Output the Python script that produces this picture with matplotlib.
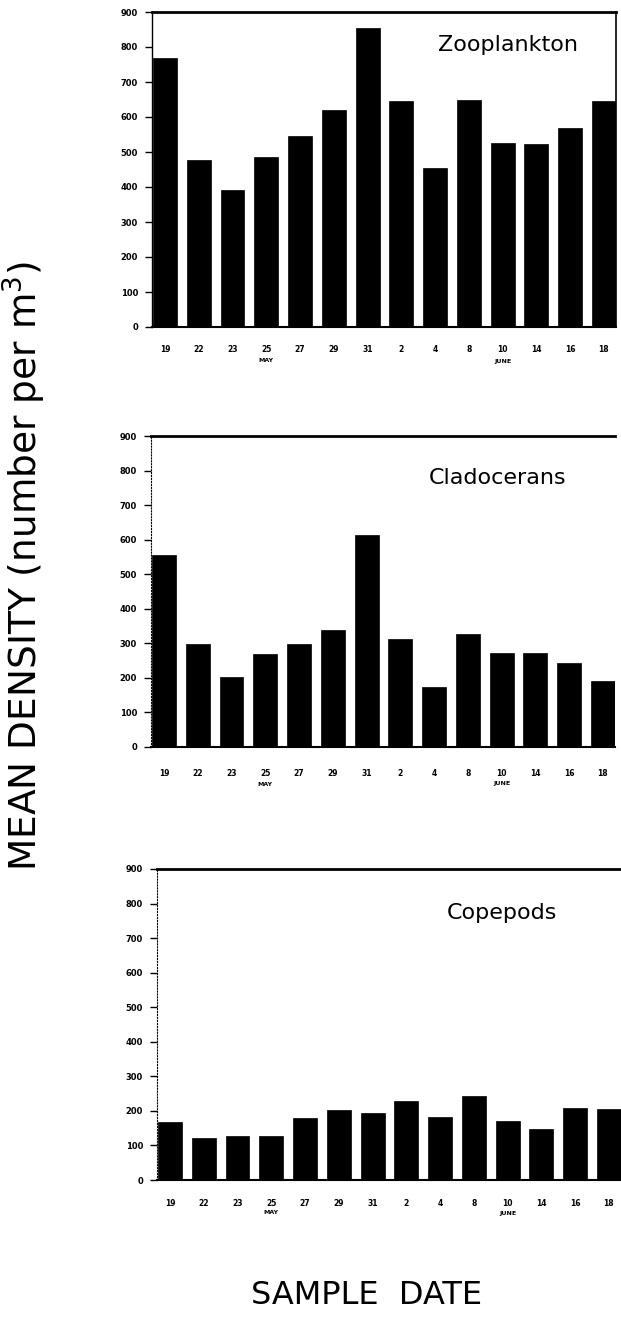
import matplotlib
matplotlib.use("Agg")
import matplotlib.pyplot as plt
import numpy as np

dates = ['19', '22', '23', '25', '27', '29', '31', '2', '4', '8', '10', '14', '16', '18']
months = ['MAY', 'JUNE']
month_pos = [3, 10]
yticks = [0, 100, 200, 300, 400, 500, 600, 700, 800, 900]

zooplankton = [770, 476, 392, 487, 547, 620, 855, 645, 454, 650, 526, 522, 568, 647]
cladocerans = [557, 298, 202, 269, 297, 340, 614, 312, 173, 327, 271, 272, 243, 192]
copepods = [167, 122, 128, 128, 179, 203, 194, 230, 182, 244, 170, 149, 208, 206]

W, H = 621, 1317
fig = plt.figure(figsize=(W / 100, H / 100), dpi=100)
fig.patch.set_facecolor('white')


def px_axes(left, right, top, bottom):
    return fig.add_axes([left / W, 1 - bottom / H, (right - left) / W, (bottom - top) / H])


panels = [
    dict(vals=zooplankton, name='Zooplankton', box=(152, 616, 12, 327), box_full=True,
         title_xy=(508, 45), lab_off=22, mon_off=34),
    dict(vals=cladocerans, name='Cladocerans', box=(151, 615, 436, 747), box_full=False,
         title_xy=(498, 478), lab_off=26, mon_off=37),
    dict(vals=copepods, name='Copepods', box=(157, 621, 869, 1180), box_full=False,
         title_xy=(502, 913), lab_off=23, mon_off=33),
]

x = np.arange(len(dates))
for p in panels:
    l, r, t, b = p['box']
    ax = px_axes(l, r, t, b)
    ax.bar(x, p['vals'], width=0.71, color='black', edgecolor='black', linewidth=0.5)
    ax.set_xlim(-0.385, 13.36)
    ax.set_ylim(0, 900)
    ax.set_yticks(yticks)
    ax.set_yticklabels([str(v) for v in yticks], fontsize=6, fontweight='bold')
    ax.tick_params(axis='y', direction='out', length=5, width=1, pad=5)
    ax.set_xticks(x)
    ax.set_xticklabels([])
    ax.tick_params(axis='x', length=0)
    for xi, d in zip(x, dates):
        ax.annotate(d, xy=(xi, 0), xycoords=('data', 'axes fraction'),
                    xytext=(0, -p['lab_off'] * 0.72), textcoords='offset points',
                    ha='center', va='center', fontsize=5.5, fontweight='bold')
    for mp, mn in zip(month_pos, months):
        ax.annotate(mn, xy=(mp, 0), xycoords=('data', 'axes fraction'),
                    xytext=(0, -p['mon_off'] * 0.72), textcoords='offset points',
                    ha='center', va='center', fontsize=4.5, fontweight='bold')
    ax.spines['top'].set_linewidth(2)
    ax.spines['bottom'].set_linewidth(1.5)
    if p['box_full']:
        ax.spines['right'].set_linewidth(1.2)
        ax.spines['left'].set_linewidth(1.0)
    else:
        ax.spines['right'].set_visible(False)
        ax.spines['left'].set_linewidth(0.8)
        ax.spines['left'].set_linestyle(':')
    tx, ty = p['title_xy']
    fig.text(tx / W, 1 - ty / H, p['name'], ha='center', va='center', fontsize=16)

fig.text(24 / W, 1 - 566 / H, 'MEAN DENSITY (number per m$^3$)', rotation=90,
         ha='center', va='center', fontsize=27)
fig.text(367 / W, 1 - 1296 / H, 'SAMPLE  DATE', ha='center', va='center', fontsize=23)

fig.savefig('out.png', dpi=100, facecolor='white')
